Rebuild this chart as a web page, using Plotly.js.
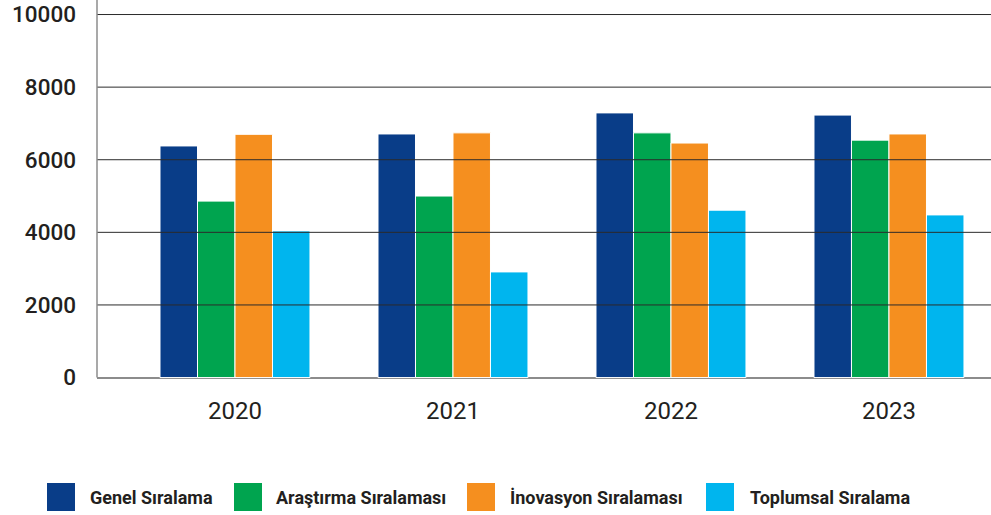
<!DOCTYPE html>
<html>
<head>
<meta charset="utf-8">
<script src="https://cdn.plot.ly/plotly-3.0.1.min.js"></script>
<style>
  html, body { margin: 0; padding: 0; background: #ffffff; }
  #chart { width: 991px; height: 515px; }
</style>
</head>
<body>
<div id="chart"></div>
<script>
// ---- Data ----
const years = ["2020", "2021", "2022", "2023"];
const seriesNames = ["Genel Sıralama", "Araştırma Sıralaması", "İnovasyon Sıralaması", "Toplumsal Sıralama"];
const genel     = [6380, 6710, 7290, 7230];
const arastirma = [4860, 5000, 6740, 6540];
const inovasyon = [6700, 6740, 6460, 6710];
const toplumsal = [4040, 2910, 4610, 4480];
const yTicks = [0, 2000, 4000, 6000, 8000, 10000];

// ---- Style ----
const colors = ["#093D88", "#00A44F", "#F58F1F", "#00B5EE"];
const seriesValues = [genel, arastirma, inovasyon, toplumsal];
const W = 991, H = 515;
const M = { l: 97, r: 0, t: 0, b: 132 };
const plotW = W - M.l - M.r, plotH = H - M.t - M.b;
const px2x = px => (px - M.l) / plotW;
const px2y = py => (H - M.b - py) / plotH;
const yRange = [-150, 10400];

const traces = seriesValues.map((vals, i) => ({
  type: "bar",
  name: seriesNames[i],
  x: years,
  y: vals,
  marker: { color: colors[i], line: { color: "#ffffff", width: 1 } },
  showlegend: false,
  hoverinfo: "x+y+name"
}));

// gridlines drawn above bars (as in the reference)
const shapes = yTicks.filter(v => v > 0).map(v => ({
  type: "line", layer: "above",
  xref: "paper", x0: 0, x1: 1,
  yref: "y", y0: v, y1: v,
  line: { color: "#2b2b2b", width: 1 }
}));
// vertical axis line from 0 to top
shapes.push({
  type: "line", layer: "above",
  xref: "paper", x0: 0, x1: 0,
  yref: "y", y0: 0, y1: yRange[1],
  line: { color: "#8c8c8c", width: 1.5 }
});

// custom legend: large square swatches
const legendSwatchLeft = [47, 234, 467, 706];
const legendTextLeft = [88, 274, 508, 748];
const annotations = [];
seriesNames.forEach((name, i) => {
  shapes.push({
    type: "rect", layer: "above",
    xref: "paper", yref: "paper",
    x0: px2x(legendSwatchLeft[i]), x1: px2x(legendSwatchLeft[i] + 28),
    y0: px2y(511), y1: px2y(483),
    fillcolor: colors[i], line: { width: 0 }
  });
  annotations.push({
    xref: "paper", yref: "paper",
    x: px2x(legendTextLeft[i]), y: px2y(497),
    xanchor: "left", yanchor: "middle",
    text: name, showarrow: false,
    font: { family: "Roboto, 'Liberation Sans', sans-serif", size: 18, weight: 700, color: "#231f20" }
  });
});

const layout = {
  width: W, height: H,
  margin: M,
  paper_bgcolor: "#ffffff",
  plot_bgcolor: "#ffffff",
  barmode: "group",
  bargap: 0.312,
  bargroupgap: 0,
  showlegend: false,
  font: { family: "Roboto, 'Liberation Sans', sans-serif", color: "#231f20" },
  xaxis: {
    type: "category",
    range: [-0.633, 3.468],
    showline: false,
    showgrid: false, zeroline: false,
    ticks: "",
    ticklabelstandoff: 11,
    tickfont: { family: "Roboto, 'Liberation Sans', sans-serif", size: 24, color: "#231f20" }
  },
  yaxis: {
    range: yRange,
    tickvals: yTicks,
    ticktext: yTicks.map(String),
    showline: false,
    showgrid: false,
    zeroline: true, zerolinecolor: "#8c8c8c", zerolinewidth: 2,
    ticks: "",
    ticklabelstandoff: 20,
    tickfont: { family: "Roboto, 'Liberation Sans', sans-serif", size: 22.5, weight: 500, color: "#231f20" }
  },
  shapes: shapes,
  annotations: annotations
};

Plotly.newPlot("chart", traces, layout, { displayModeBar: false, staticPlot: true });
</script>
</body>
</html>
